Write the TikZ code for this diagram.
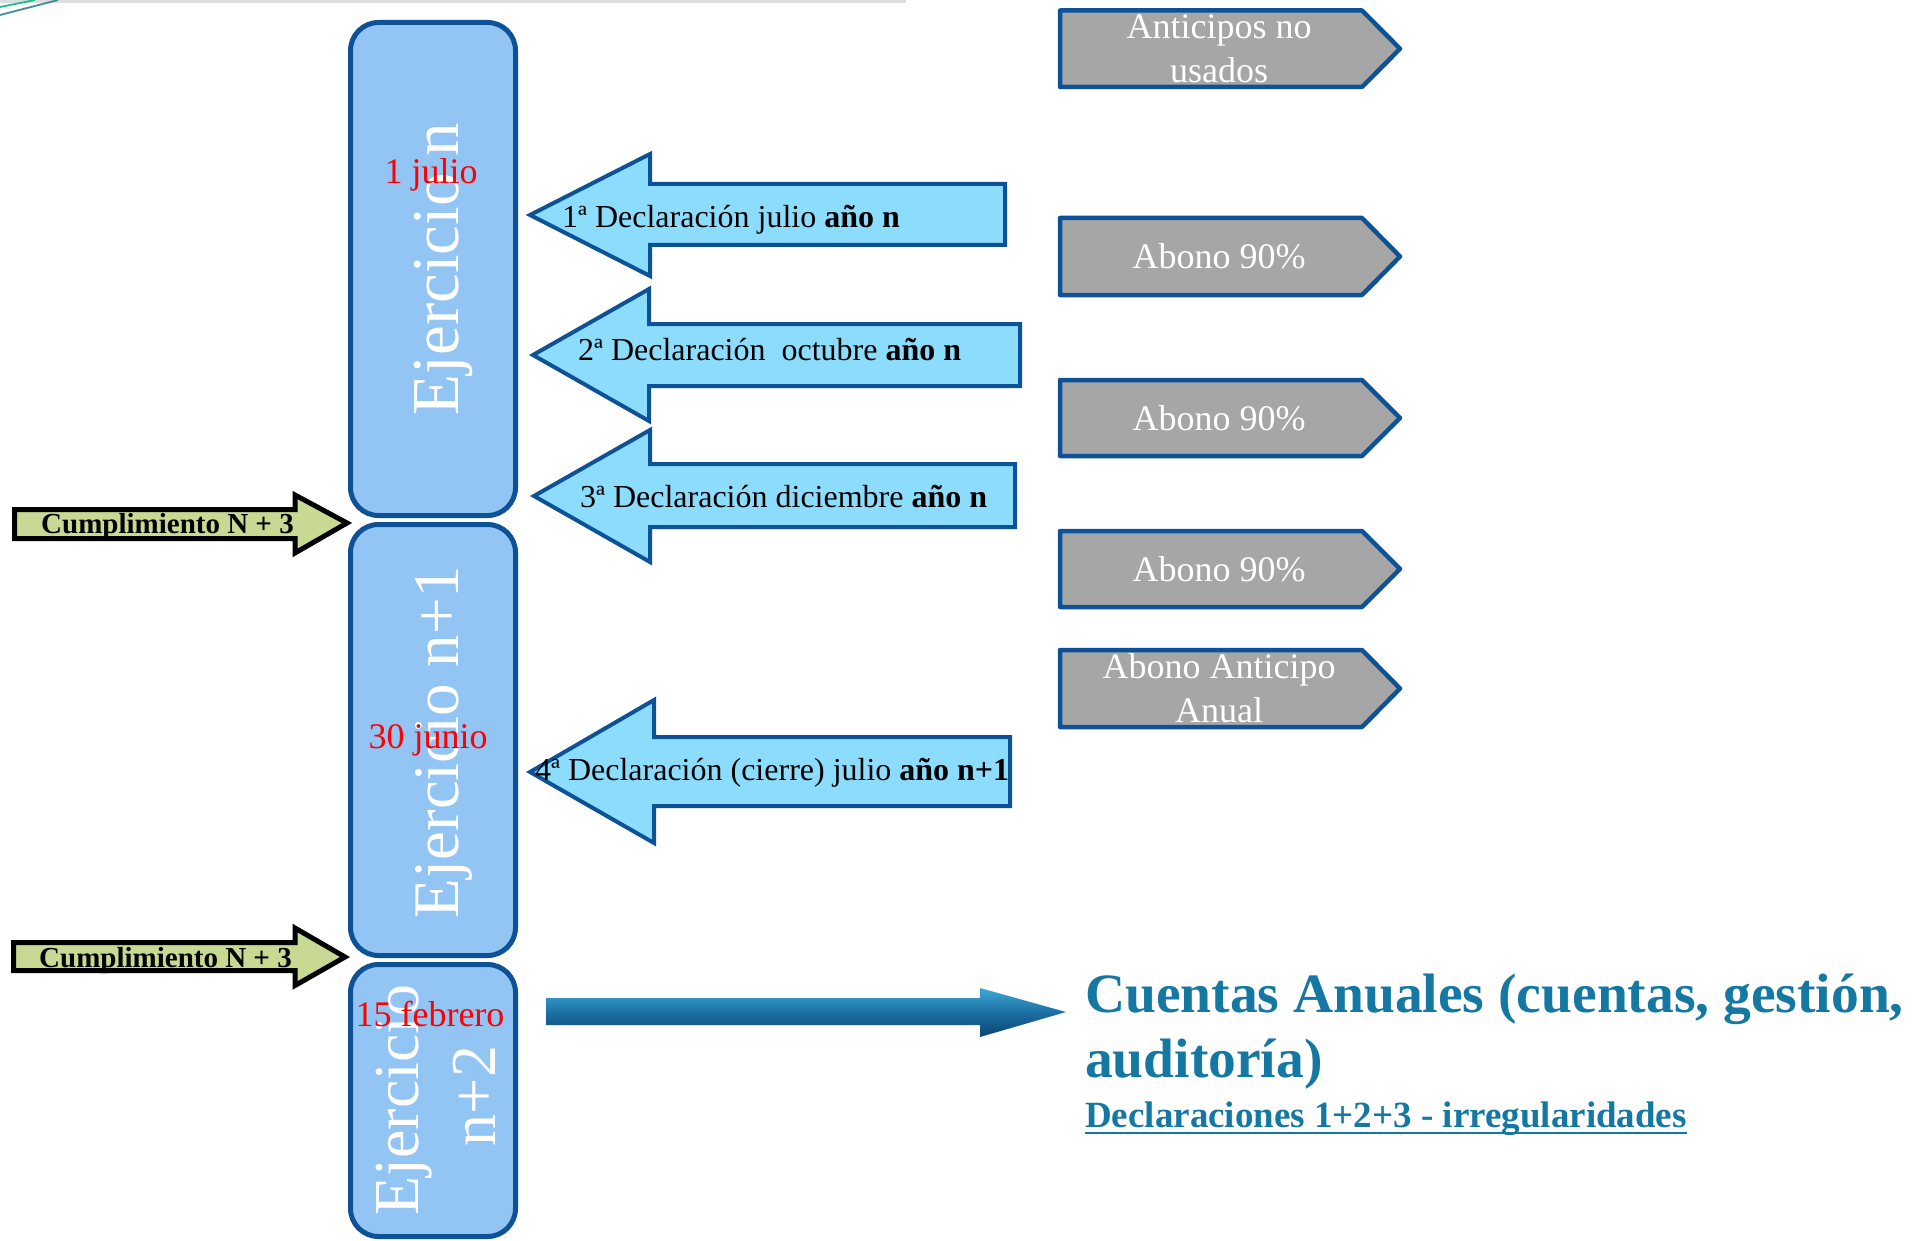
\documentclass[tikz,border=0pt]{standalone}
\usepackage{fontspec}
\setmainfont{Liberation Serif}

\definecolor{ejfill}{HTML}{93C5F4}
\definecolor{ejline}{HTML}{0D5296}
\definecolor{declfill}{HTML}{8CDDFD}
\definecolor{chevfill}{HTML}{A6A6A6}
\definecolor{cumfill}{HTML}{C8D993}
\definecolor{cuentasblue}{HTML}{1478A2}
\definecolor{topgray}{HTML}{DDDDDD}
\definecolor{decogreen}{HTML}{19C38E}
\definecolor{decoteal}{HTML}{3F8E9C}
\definecolor{bigtop}{HTML}{3FA8DA}
\definecolor{bigmid}{HTML}{1C70A2}
\definecolor{bigbot}{HTML}{0B4373}

\tikzset{
  ejbox/.style={draw=ejline, fill=ejfill, line width=5pt, rounded corners=28pt},
  ejtext/.style={text=white, rotate=90, anchor=base, inner sep=0pt},
  datetext/.style={text=red, anchor=base, inner sep=0pt, font=\fontsize{36}{36}\selectfont},
  declarrow/.style={draw=ejline, fill=declfill, line width=4pt},
  decltext/.style={anchor=base west, inner sep=0pt, font=\fontsize{32}{32}\selectfont},
  cumarrow/.style={draw=black, fill=cumfill, line width=5pt},
  cumtext/.style={anchor=base west, inner sep=0pt, font=\bfseries\fontsize{29}{29}\selectfont},
  chevron/.style={draw=ejline, fill=chevfill, line width=4.5pt, line join=round},
  chevtext/.style={text=white, align=center, inner sep=0pt, font=\fontsize{36}{44}\selectfont},
  cuentastext/.style={text=cuentasblue, anchor=base west, inner sep=0pt, font=\bfseries\fontsize{55.5}{55.5}\selectfont},
}

\begin{document}
\begin{tikzpicture}[x=1pt, y=-1pt]
\useasboundingbox (0,0) rectangle (1913,1241);
\fill[white] (0,0) rectangle (1913,1241);

% slide remnants at the top
\draw[topgray, line width=3pt] (0,1.5) -- (906,1.5);
\draw[decogreen, line width=1.8pt] (0,7) -- (35,0);
\draw[decoteal, line width=1.8pt] (0,15) -- (58,0);

% ejercicios
\node[ejbox, minimum width=165pt, minimum height=493pt] (ejn) at (433,269) {};
\node[ejbox, minimum width=165pt, minimum height=431pt] (ejn1) at (433,740) {};
\node[ejbox, minimum width=165pt, minimum height=272pt] (ejn2) at (433,1100.5) {};
\node[ejtext, font=\fontsize{67}{67}\selectfont] (ejnt) at (458,269) {Ejercicio n};
\node[ejtext, font=\fontsize{65}{65}\selectfont] (ejn1t) at (458,742) {Ejercicio n+1};
\node[ejtext, font=\fontsize{64}{64}\selectfont] (ejn2a) at (418,1100) {Ejercicio};
\node[ejtext, font=\fontsize{64}{64}\selectfont] (ejn2b) at (495,1096) {n+2};
\node[datetext] (julio) at (431,184) {1 julio};
\node[datetext] (junio) at (428,748) {30 junio};
\node[datetext] (febrero) at (430,1026) {15 febrero};

% declaraciones
\draw[declarrow] (530,215) -- (650,154) -- (650,184) -- (1005,184) -- (1005,245) -- (650,245) -- (650,276) -- cycle;
\draw[declarrow] (533,355) -- (649,289) -- (649,324) -- (1020,324) -- (1020,386) -- (649,386) -- (649,421) -- cycle;
\draw[declarrow] (534,496) -- (650,430) -- (650,464) -- (1015,464) -- (1015,527) -- (650,527) -- (650,562) -- cycle;
\draw[declarrow] (530,772) -- (654,700) -- (654,737) -- (1010,737) -- (1010,806) -- (654,806) -- (654,843) -- cycle;
\node[decltext] (decl1) at (562,228) {1ª Declaración julio \textbf{año n}};
\node[decltext] (decl2) at (578,360) {2ª Declaración~ octubre \textbf{año n}};
\node[decltext] (decl3) at (580,507) {3ª Declaración diciembre \textbf{año n}};
\node[decltext] (decl4) at (535,780) {4ª Declaración (cierre) julio \textbf{año n+1}};

% cumplimiento
\draw[cumarrow] (14.5,509.5) -- (295,509.5) -- (295,495) -- (347,523) -- (295,553) -- (295,538.5) -- (14.5,538.5) -- cycle;
\draw[cumarrow] (13.5,942.5) -- (295,942.5) -- (295,928) -- (345,957) -- (295,985.5) -- (295,970.5) -- (13.5,970.5) -- cycle;
\node[cumtext] (cum1) at (41,533) {Cumplimiento N + 3};
\node[cumtext] (cum2) at (39,967) {Cumplimiento N + 3};

% abonos
\draw[chevron] (1060,10.5) -- (1362,10.5) -- (1400,48.75) -- (1362,87) -- (1060,87) -- cycle;
\draw[chevron] (1060,218) -- (1362,218) -- (1400,256.5) -- (1362,295) -- (1060,295) -- cycle;
\draw[chevron] (1060,380) -- (1362,380) -- (1400,418) -- (1362,456) -- (1060,456) -- cycle;
\draw[chevron] (1060,531) -- (1362,531) -- (1400,569) -- (1362,607) -- (1060,607) -- cycle;
\draw[chevron] (1060,650) -- (1362,650) -- (1400,688.5) -- (1362,727) -- (1060,727) -- cycle;
\node[chevtext] (antic) at (1219,48.75) {Anticipos no\\usados};
\node[chevtext] (abono1) at (1219,256.5) {Abono 90\%};
\node[chevtext] (abono2) at (1219,418) {Abono 90\%};
\node[chevtext] (abono3) at (1219,569) {Abono 90\%};
\node[chevtext] (anual) at (1219,688.5) {Abono Anticipo\\Anual};

% cuentas anuales
\shade[top color=bigtop, bottom color=bigbot, middle color=bigmid] (546,998) -- (980,998) -- (980,988) -- (1066,1012) -- (980,1037) -- (980,1025) -- (546,1025) -- cycle;
\node[cuentastext] (cuentas) at (1085,1012) {Cuentas Anuales (cuentas, gestión,};
\node[cuentastext] (audit) at (1085,1077) {auditoría)};
\node[cuentastext, font=\bfseries\fontsize{37}{37}\selectfont] (irreg) at (1085,1127) {Declaraciones 1+2+3 - irregularidades};
\draw[cuentasblue, line width=2.7pt] ([yshift=-6pt]irreg.base west) -- ([yshift=-6pt]irreg.base east);
\end{tikzpicture}
\end{document}
